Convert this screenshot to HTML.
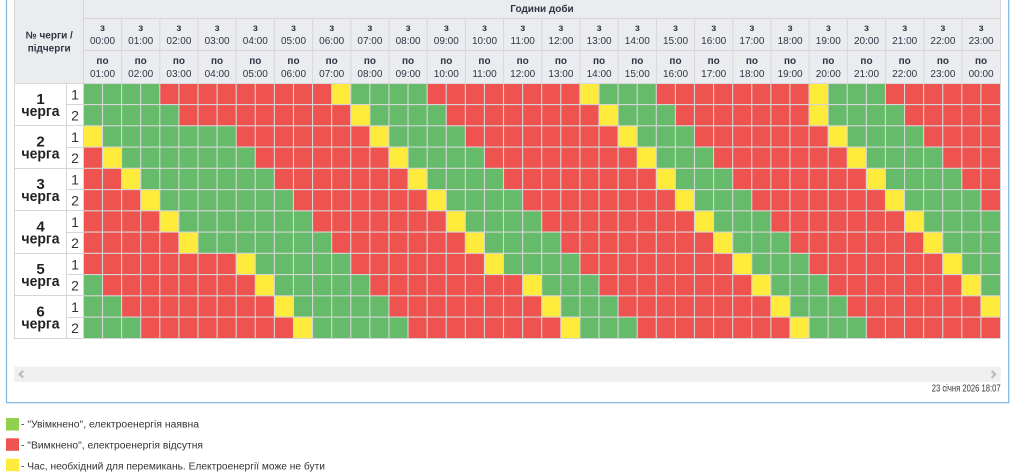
<!DOCTYPE html>
<html>
<head>
<meta charset="utf-8">
<style>
html,body{margin:0;padding:0;background:#fff;width:1016px;height:476px;overflow:hidden;}
svg{display:block;}
.hd{font-family:"Liberation Sans","Noto Sans CJK SC",sans-serif;font-size:10px;fill:#2f3542;text-anchor:middle;}
.hb{font-weight:bold;}
</style>
</head>
<body>
<svg width="1016" height="476" viewBox="0 0 1016 476" xmlns="http://www.w3.org/2000/svg" font-family="Liberation Sans, sans-serif">
  <!-- container border -->
  <rect x="6.5" y="-5" width="1002.2" height="407.7" fill="none" stroke="#7fb5dd" stroke-width="1.2"/>

  <!-- header background -->
  <rect x="14" y="0" width="986.2" height="83.3" fill="#ebecf0"/>

  <!-- grid cells -->
  <g transform="translate(83.4 83.3) scale(19.096 21.25)">
    <rect x="0" y="0" width="48" height="12" fill="#ef5350"/>
    <g fill="#66bb6a">
      <rect x="0" y="0" width="4" height="1"/><rect x="14" y="0" width="4" height="1"/><rect x="27" y="0" width="3" height="1"/><rect x="39" y="0" width="3" height="1"/>
      <rect x="0" y="1" width="5" height="1"/><rect x="15" y="1" width="4" height="1"/><rect x="28" y="1" width="3" height="1"/><rect x="39" y="1" width="4" height="1"/>
      <rect x="1" y="2" width="7" height="1"/><rect x="16" y="2" width="4" height="1"/><rect x="29" y="2" width="3" height="1"/><rect x="40" y="2" width="4" height="1"/>
      <rect x="2" y="3" width="7" height="1"/><rect x="17" y="3" width="4" height="1"/><rect x="30" y="3" width="3" height="1"/><rect x="41" y="3" width="4" height="1"/>
      <rect x="3" y="4" width="7" height="1"/><rect x="18" y="4" width="4" height="1"/><rect x="31" y="4" width="3" height="1"/><rect x="42" y="4" width="4" height="1"/>
      <rect x="4" y="5" width="7" height="1"/><rect x="19" y="5" width="4" height="1"/><rect x="32" y="5" width="3" height="1"/><rect x="43" y="5" width="4" height="1"/>
      <rect x="5" y="6" width="7" height="1"/><rect x="20" y="6" width="4" height="1"/><rect x="33" y="6" width="3" height="1"/><rect x="44" y="6" width="4" height="1"/>
      <rect x="6" y="7" width="7" height="1"/><rect x="21" y="7" width="4" height="1"/><rect x="34" y="7" width="3" height="1"/><rect x="45" y="7" width="3" height="1"/>
      <rect x="9" y="8" width="5" height="1"/><rect x="22" y="8" width="4" height="1"/><rect x="35" y="8" width="3" height="1"/><rect x="46" y="8" width="2" height="1"/>
      <rect x="0" y="9" width="1" height="1"/><rect x="10" y="9" width="5" height="1"/><rect x="24" y="9" width="3" height="1"/><rect x="36" y="9" width="3" height="1"/><rect x="47" y="9" width="1" height="1"/>
      <rect x="0" y="10" width="2" height="1"/><rect x="11" y="10" width="5" height="1"/><rect x="25" y="10" width="3" height="1"/><rect x="37" y="10" width="3" height="1"/>
      <rect x="0" y="11" width="3" height="1"/><rect x="12" y="11" width="5" height="1"/><rect x="26" y="11" width="3" height="1"/><rect x="38" y="11" width="3" height="1"/>
    </g>
    <g fill="#ffeb3b">
      <rect x="13" y="0" width="1" height="1"/><rect x="26" y="0" width="1" height="1"/><rect x="38" y="0" width="1" height="1"/>
      <rect x="14" y="1" width="1" height="1"/><rect x="27" y="1" width="1" height="1"/><rect x="38" y="1" width="1" height="1"/>
      <rect x="0" y="2" width="1" height="1"/><rect x="15" y="2" width="1" height="1"/><rect x="28" y="2" width="1" height="1"/><rect x="39" y="2" width="1" height="1"/>
      <rect x="1" y="3" width="1" height="1"/><rect x="16" y="3" width="1" height="1"/><rect x="29" y="3" width="1" height="1"/><rect x="40" y="3" width="1" height="1"/>
      <rect x="2" y="4" width="1" height="1"/><rect x="17" y="4" width="1" height="1"/><rect x="30" y="4" width="1" height="1"/><rect x="41" y="4" width="1" height="1"/>
      <rect x="3" y="5" width="1" height="1"/><rect x="18" y="5" width="1" height="1"/><rect x="31" y="5" width="1" height="1"/><rect x="42" y="5" width="1" height="1"/>
      <rect x="4" y="6" width="1" height="1"/><rect x="19" y="6" width="1" height="1"/><rect x="32" y="6" width="1" height="1"/><rect x="43" y="6" width="1" height="1"/>
      <rect x="5" y="7" width="1" height="1"/><rect x="20" y="7" width="1" height="1"/><rect x="33" y="7" width="1" height="1"/><rect x="44" y="7" width="1" height="1"/>
      <rect x="8" y="8" width="1" height="1"/><rect x="21" y="8" width="1" height="1"/><rect x="34" y="8" width="1" height="1"/><rect x="45" y="8" width="1" height="1"/>
      <rect x="9" y="9" width="1" height="1"/><rect x="23" y="9" width="1" height="1"/><rect x="35" y="9" width="1" height="1"/><rect x="46" y="9" width="1" height="1"/>
      <rect x="10" y="10" width="1" height="1"/><rect x="24" y="10" width="1" height="1"/><rect x="36" y="10" width="1" height="1"/><rect x="47" y="10" width="1" height="1"/>
      <rect x="11" y="11" width="1" height="1"/><rect x="25" y="11" width="1" height="1"/><rect x="37" y="11" width="1" height="1"/>
    </g>
    <path vector-effect="non-scaling-stroke" stroke="#d6d6d6" stroke-width="1.1" fill="none"
      d="M1 0V12M2 0V12M3 0V12M4 0V12M5 0V12M6 0V12M7 0V12M8 0V12M9 0V12M10 0V12M11 0V12M12 0V12M13 0V12M14 0V12M15 0V12M16 0V12M17 0V12M18 0V12M19 0V12M20 0V12M21 0V12M22 0V12M23 0V12M24 0V12M25 0V12M26 0V12M27 0V12M28 0V12M29 0V12M30 0V12M31 0V12M32 0V12M33 0V12M34 0V12M35 0V12M36 0V12M37 0V12M38 0V12M39 0V12M40 0V12M41 0V12M42 0V12M43 0V12M44 0V12M45 0V12M46 0V12M47 0V12M0 1H48M0 2H48M0 3H48M0 4H48M0 5H48M0 6H48M0 7H48M0 8H48M0 9H48M0 10H48M0 11H48"/>
  </g>

  <!-- header vertical lines -->
  <g transform="translate(83.4 18) scale(38.2 1)">
    <path vector-effect="non-scaling-stroke" stroke="#d8d8da" stroke-width="1" fill="none"
      d="M1 0V65.3M2 0V65.3M3 0V65.3M4 0V65.3M5 0V65.3M6 0V65.3M7 0V65.3M8 0V65.3M9 0V65.3M10 0V65.3M11 0V65.3M12 0V65.3M13 0V65.3M14 0V65.3M15 0V65.3M16 0V65.3M17 0V65.3M18 0V65.3M19 0V65.3M20 0V65.3M21 0V65.3M22 0V65.3M23 0V65.3"/>
  </g>

  <!-- table borders -->
  <path stroke="#d6d6d6" stroke-width="1" fill="none"
    d="M83.5 18.5H1000.5M83.5 50.5H1000.5M14 83.5H1000.5
       M14 125.5H83.5M14 168.5H83.5M14 210.5H83.5M14 253.5H83.5M14 295.5H83.5M14 338.5H1000.5
       M66 104.5H83.5M66 147.5H83.5M66 189.5H83.5M66 232.5H83.5M66 274.5H83.5M66 317.5H83.5
       M14.5 0V338.5M66.5 83.5V338.5M83.5 0V338.5M1000.5 0V338.5"/>

  <!-- header texts -->
  <text class="hd hb" x="542" y="12">Години доби</text>
  <text class="hd hb" x="49.2" y="38.3">№ черги /</text>
  <text class="hd hb" x="49.2" y="51.3">підчерги</text>

  <g class="hd">
    <g transform="translate(102.5 0)"><text class="hb" y="31">з</text><text y="44">00:00</text><text class="hb" y="64">по</text><text y="77">01:00</text></g>
    <g transform="translate(140.7 0)"><text class="hb" y="31">з</text><text y="44">01:00</text><text class="hb" y="64">по</text><text y="77">02:00</text></g>
    <g transform="translate(178.9 0)"><text class="hb" y="31">з</text><text y="44">02:00</text><text class="hb" y="64">по</text><text y="77">03:00</text></g>
    <g transform="translate(217.1 0)"><text class="hb" y="31">з</text><text y="44">03:00</text><text class="hb" y="64">по</text><text y="77">04:00</text></g>
    <g transform="translate(255.3 0)"><text class="hb" y="31">з</text><text y="44">04:00</text><text class="hb" y="64">по</text><text y="77">05:00</text></g>
    <g transform="translate(293.5 0)"><text class="hb" y="31">з</text><text y="44">05:00</text><text class="hb" y="64">по</text><text y="77">06:00</text></g>
    <g transform="translate(331.7 0)"><text class="hb" y="31">з</text><text y="44">06:00</text><text class="hb" y="64">по</text><text y="77">07:00</text></g>
    <g transform="translate(369.9 0)"><text class="hb" y="31">з</text><text y="44">07:00</text><text class="hb" y="64">по</text><text y="77">08:00</text></g>
    <g transform="translate(408.1 0)"><text class="hb" y="31">з</text><text y="44">08:00</text><text class="hb" y="64">по</text><text y="77">09:00</text></g>
    <g transform="translate(446.3 0)"><text class="hb" y="31">з</text><text y="44">09:00</text><text class="hb" y="64">по</text><text y="77">10:00</text></g>
    <g transform="translate(484.5 0)"><text class="hb" y="31">з</text><text y="44">10:00</text><text class="hb" y="64">по</text><text y="77">11:00</text></g>
    <g transform="translate(522.7 0)"><text class="hb" y="31">з</text><text y="44">11:00</text><text class="hb" y="64">по</text><text y="77">12:00</text></g>
    <g transform="translate(560.9 0)"><text class="hb" y="31">з</text><text y="44">12:00</text><text class="hb" y="64">по</text><text y="77">13:00</text></g>
    <g transform="translate(599.1 0)"><text class="hb" y="31">з</text><text y="44">13:00</text><text class="hb" y="64">по</text><text y="77">14:00</text></g>
    <g transform="translate(637.3 0)"><text class="hb" y="31">з</text><text y="44">14:00</text><text class="hb" y="64">по</text><text y="77">15:00</text></g>
    <g transform="translate(675.5 0)"><text class="hb" y="31">з</text><text y="44">15:00</text><text class="hb" y="64">по</text><text y="77">16:00</text></g>
    <g transform="translate(713.7 0)"><text class="hb" y="31">з</text><text y="44">16:00</text><text class="hb" y="64">по</text><text y="77">17:00</text></g>
    <g transform="translate(751.9 0)"><text class="hb" y="31">з</text><text y="44">17:00</text><text class="hb" y="64">по</text><text y="77">18:00</text></g>
    <g transform="translate(790.1 0)"><text class="hb" y="31">з</text><text y="44">18:00</text><text class="hb" y="64">по</text><text y="77">19:00</text></g>
    <g transform="translate(828.3 0)"><text class="hb" y="31">з</text><text y="44">19:00</text><text class="hb" y="64">по</text><text y="77">20:00</text></g>
    <g transform="translate(866.5 0)"><text class="hb" y="31">з</text><text y="44">20:00</text><text class="hb" y="64">по</text><text y="77">21:00</text></g>
    <g transform="translate(904.7 0)"><text class="hb" y="31">з</text><text y="44">21:00</text><text class="hb" y="64">по</text><text y="77">22:00</text></g>
    <g transform="translate(942.9 0)"><text class="hb" y="31">з</text><text y="44">22:00</text><text class="hb" y="64">по</text><text y="77">23:00</text></g>
    <g transform="translate(981.1 0)"><text class="hb" y="31">з</text><text y="44">23:00</text><text class="hb" y="64">по</text><text y="77">00:00</text></g>
  </g>

  <!-- group labels -->
  <g font-family="Liberation Sans, sans-serif" font-size="15" font-weight="bold" fill="#222" text-anchor="middle">
    <text x="40.5" y="104">1</text><text x="40.5" y="116" textLength="38" lengthAdjust="spacingAndGlyphs">черга</text>
    <text x="40.5" y="146.5">2</text><text x="40.5" y="158.5" textLength="38" lengthAdjust="spacingAndGlyphs">черга</text>
    <text x="40.5" y="189">3</text><text x="40.5" y="201" textLength="38" lengthAdjust="spacingAndGlyphs">черга</text>
    <text x="40.5" y="231.5">4</text><text x="40.5" y="243.5" textLength="38" lengthAdjust="spacingAndGlyphs">черга</text>
    <text x="40.5" y="274">5</text><text x="40.5" y="286" textLength="38" lengthAdjust="spacingAndGlyphs">черга</text>
    <text x="40.5" y="316.5">6</text><text x="40.5" y="328.5" textLength="38" lengthAdjust="spacingAndGlyphs">черга</text>
  </g>
  <!-- sub labels -->
  <g font-family="Liberation Sans, sans-serif" font-size="14" fill="#333" text-anchor="middle">
    <text x="75" y="99.3">1</text><text x="75" y="120.55">2</text>
    <text x="75" y="141.8">1</text><text x="75" y="163.05">2</text>
    <text x="75" y="184.3">1</text><text x="75" y="205.55">2</text>
    <text x="75" y="226.8">1</text><text x="75" y="248.05">2</text>
    <text x="75" y="269.3">1</text><text x="75" y="290.55">2</text>
    <text x="75" y="311.8">1</text><text x="75" y="333.05">2</text>
  </g>

  <!-- scrollbar -->
  <rect x="14" y="366.7" width="986.7" height="15.3" fill="#f0f0f0"/>
  <polyline points="23.2,370.8 19.6,374.2 23.2,377.6" fill="none" stroke="#b5c2b5" stroke-width="2.2"/>
  <polyline points="991.6,370.8 995.2,374.3 991.6,377.8" fill="none" stroke="#b5c2b5" stroke-width="2.2"/>

  <!-- date -->
  <text x="1000.7" y="391.5" font-family="Liberation Sans, sans-serif" font-size="10" fill="#333" text-anchor="end" textLength="69" lengthAdjust="spacingAndGlyphs">23 січня 2026 18:07</text>

  <!-- legend -->
  <rect x="6" y="418" width="13" height="12.5" fill="#92d050"/>
  <rect x="6" y="438.3" width="13" height="12.5" fill="#f05450"/>
  <rect x="6" y="458.7" width="13" height="12.5" fill="#ffeb3b"/>
  <g font-family="Liberation Sans, sans-serif" font-size="10" fill="#333">
    <text x="21" y="427.3" textLength="178" lengthAdjust="spacingAndGlyphs">- "Увімкнено", електроенергія наявна</text>
    <text x="21" y="448.3" textLength="182" lengthAdjust="spacingAndGlyphs">- "Вимкнено", електроенергія відсутня</text>
    <text x="21" y="469.3" textLength="304" lengthAdjust="spacingAndGlyphs">- Час, необхідний для перемикань. Електроенергії може не бути</text>
  </g>
</svg>
</body>
</html>
